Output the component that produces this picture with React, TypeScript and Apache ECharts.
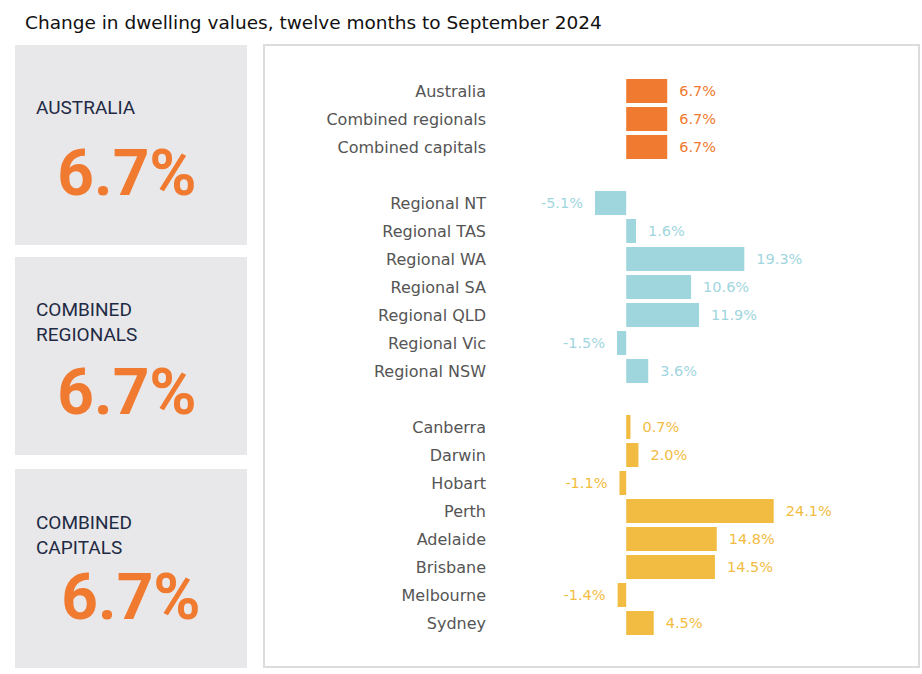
import React, { useEffect, useRef } from "react";
import * as echarts from "echarts";

const categories = [
  "Australia", "Combined regionals", "Combined capitals", " ",
  "Regional NT", "Regional TAS", "Regional WA", "Regional SA", "Regional QLD", "Regional Vic", "Regional NSW", "  ",
  "Canberra", "Darwin", "Hobart", "Perth", "Adelaide", "Brisbane", "Melbourne", "Sydney",
];
const values: (number | null)[] = [
  6.7, 6.7, 6.7, null,
  -5.1, 1.6, 19.3, 10.6, 11.9, -1.5, 3.6, null,
  0.7, 2.0, -1.1, 24.1, 14.8, 14.5, -1.4, 4.5,
];
const groups = [
  "nat", "nat", "nat", "", "reg", "reg", "reg", "reg", "reg", "reg", "reg", "", "cap", "cap", "cap", "cap", "cap", "cap", "cap", "cap",
];
const groupColors: Record<string, string> = { nat: "#f07a30", reg: "#9fd6de", cap: "#f2bc42" };

const panels = [
  { lines: ["AUSTRALIA"], value: "6.7%" },
  { lines: ["COMBINED", "REGIONALS"], value: "6.7%" },
  { lines: ["COMBINED", "CAPITALS"], value: "6.7%" },
];

const FONT = "DejaVu Sans";

export default function App() {
  const ref = useRef<HTMLDivElement>(null);
  useEffect(() => {
    const chart = echarts.init(ref.current!, null, { renderer: "svg" });
    const panelGeo = [
      { y: 45, h: 200, labelY: [107], valY: 173 },
      { y: 257, h: 198, labelY: [309, 334], valY: 392 },
      { y: 469, h: 199, labelY: [522, 547], valY: 597 },
    ];
    const graphics: any[] = [];
    panels.forEach((p, i) => {
      const g = panelGeo[i];
      graphics.push({ type: "rect", shape: { x: 15, y: g.y, width: 232, height: g.h }, style: { fill: "#e8e8ea" }, z: -10 });
      p.lines.forEach((l, j) => {
        graphics.push({
          type: "text", x: 36, y: g.labelY[j],
          style: { text: l, fill: "#1f2a44", font: "19px Roboto", textVerticalAlign: "middle", textAlign: "left" },
        });
      });
      graphics.push({
        type: "text", x: 127 + (i === 2 ? 4 : 0), y: g.valY,
        style: { text: p.value, fill: "#f07a30", font: "bold 64px Roboto", textVerticalAlign: "middle", textAlign: "center" },
      });
    });
    graphics.push({ type: "rect", shape: { x: 264, y: 45, width: 655, height: 622 }, style: { fill: "none", stroke: "#dcdcdc", lineWidth: 2 }, z: -10 });

    chart.setOption({
      animation: false,
      title: {
        text: "Change in dwelling values, twelve months to September 2024",
        left: 20, top: 8,
        textStyle: { fontFamily: FONT, fontSize: 18.5, fontWeight: "normal", color: "#111" },
      },
      graphic: graphics,
      grid: { left: 565, width: 306, top: 77, height: 560 },
      xAxis: { type: "value", min: -10, max: 40, show: false },
      yAxis: {
        type: "category", data: categories, inverse: true,
        axisLine: { show: false }, axisTick: { show: false }, splitLine: { show: false },
        axisLabel: { margin: 79, color: "#555", fontFamily: FONT, fontSize: 16 },
      },
      series: [{
        type: "bar",
        barWidth: 24,
        data: values.map((v, i) => v === null ? "-" : {
          value: v,
          itemStyle: { color: groupColors[groups[i]] },
          label: {
            show: true, position: v < 0 ? "left" : "right", distance: 12,
            color: groupColors[groups[i]], fontFamily: FONT, fontSize: 14.5,
            formatter: () => v.toFixed(1) + "%",
          },
        }),
      }],
    });
    return () => chart.dispose();
  }, []);
  return <div ref={ref} style={{ position: "absolute", left: 0, top: 0, width: 922, height: 674 }} />;
}
